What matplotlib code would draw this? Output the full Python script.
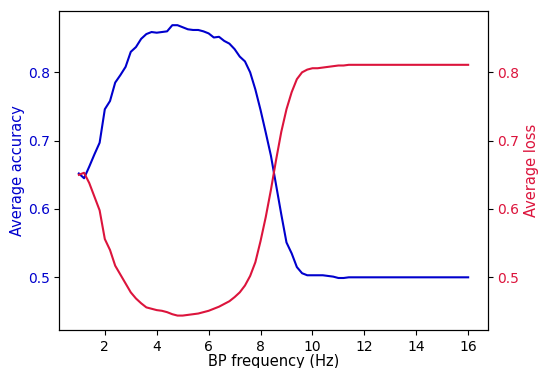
import matplotlib
matplotlib.use('Agg')
import matplotlib.pyplot as plt

# band-pass frequency sweep, accuracy on the left axis, loss on the right
bp_freq = [1.0, 1.2, 1.4, 1.6, 1.8, 2.0, 2.2, 2.4, 2.6, 2.8,
           3.0, 3.2, 3.4, 3.6, 3.8, 4.0, 4.2, 4.4, 4.6, 4.8,
           5.0, 5.2, 5.4, 5.6, 5.8, 6.0, 6.2, 6.4, 6.6, 6.8,
           7.0, 7.2, 7.4, 7.6, 7.8, 8.0, 8.2, 8.4, 8.6, 8.8,
           9.0, 9.2, 9.4, 9.6, 9.8, 10.0, 10.2, 10.4, 10.6, 10.8,
           11.0, 11.2, 11.4, 12.0, 13.0, 14.0, 15.0, 16.0]

avg_accuracy = [0.652, 0.645, 0.662, 0.680, 0.697, 0.746, 0.758, 0.785, 0.796, 0.808,
                0.830, 0.837, 0.849, 0.856, 0.859, 0.858, 0.859, 0.860, 0.869, 0.869,
                0.866, 0.863, 0.862, 0.862, 0.860, 0.857, 0.851, 0.852, 0.846, 0.842,
                0.834, 0.823, 0.816, 0.800, 0.775, 0.745, 0.712, 0.678, 0.635, 0.592,
                0.551, 0.535, 0.515, 0.506, 0.503, 0.503, 0.503, 0.503, 0.502, 0.501,
                0.499, 0.499, 0.500, 0.500, 0.500, 0.500, 0.500, 0.500]

avg_loss = [0.650, 0.653, 0.638, 0.618, 0.598, 0.556, 0.540, 0.517, 0.504, 0.491,
            0.478, 0.469, 0.462, 0.456, 0.454, 0.452, 0.451, 0.449, 0.446, 0.444,
            0.444, 0.445, 0.446, 0.447, 0.449, 0.451, 0.454, 0.457, 0.461, 0.465,
            0.471, 0.478, 0.488, 0.502, 0.522, 0.553, 0.588, 0.628, 0.672, 0.713,
            0.746, 0.771, 0.790, 0.800, 0.804, 0.806, 0.806, 0.807, 0.808, 0.809,
            0.810, 0.810, 0.811, 0.811, 0.811, 0.811, 0.811, 0.811]

acc_color = 'mediumblue'
loss_color = 'crimson'

fig, ax = plt.subplots(figsize=(5.4, 3.68), dpi=100)
fig.subplots_adjust(left=0.11, right=0.903, top=0.971, bottom=0.103)

ax.plot(bp_freq, avg_accuracy, color=acc_color)
ax.set_xlabel('BP frequency (Hz)', fontsize=10.5, labelpad=0)
ax.set_ylabel('Average accuracy', color=acc_color, fontsize=10.5, labelpad=2)
ax.tick_params(axis='y', labelcolor=acc_color)

ax2 = ax.twinx()
ax2.plot(bp_freq, avg_loss, color=loss_color)
ax2.set_ylabel('Average loss', color=loss_color, fontsize=10.5, labelpad=3)
ax2.tick_params(axis='y', labelcolor=loss_color)

# both axes share the same range (combined data + 5% margin)
lo = min(min(avg_accuracy), min(avg_loss))
hi = max(max(avg_accuracy), max(avg_loss))
pad = (hi - lo) * 0.05
ax.set_ylim(lo - pad, hi + pad)
ax2.set_ylim(lo - pad, hi + pad)

plt.savefig('out.png', dpi=100)
